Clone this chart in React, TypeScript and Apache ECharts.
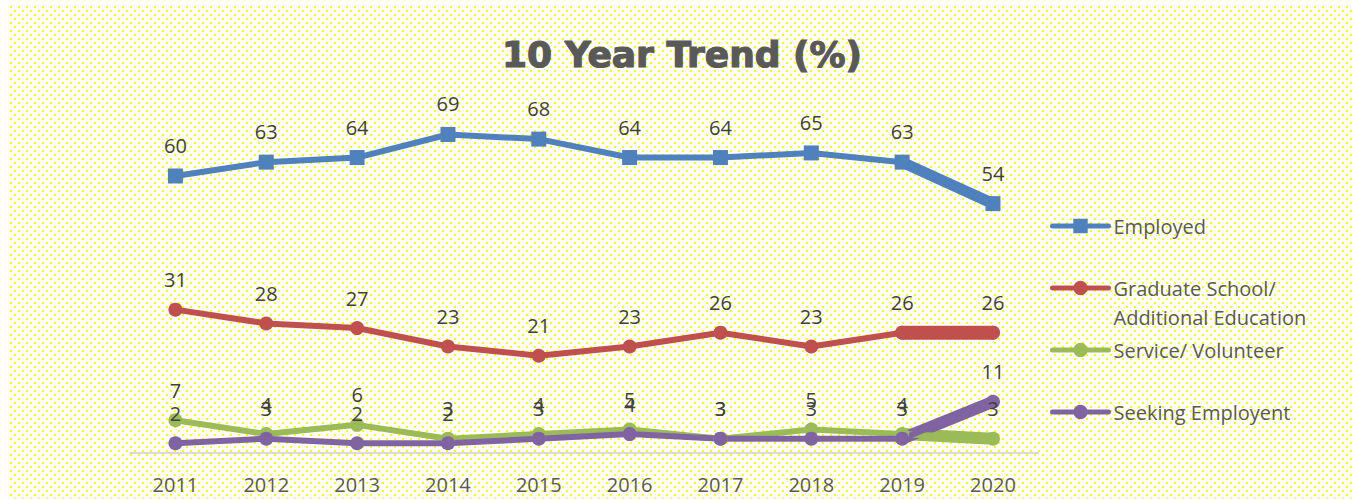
import React, { useEffect, useRef } from "react";
import * as echarts from "echarts";

const years = ["2011", "2012", "2013", "2014", "2015", "2016", "2017", "2018", "2019", "2020"];
const employed = [60, 63, 64, 69, 68, 64, 64, 65, 63, 54];
const gradSchool = [31, 28, 27, 23, 21, 23, 26, 23, 26, 26];
const service = [7, 4, 6, 3, 4, 5, 3, 5, 4, 3];
const seeking = [2, 3, 2, 2, 3, 4, 3, 3, 3, 11];

const seriesNames = [
  "Employed",
  "Graduate School/ Additional Education",
  "Service/ Volunteer",
  "Seeking Employent",
];
const legendTexts = ["Employed", "\nGraduate School/\nAdditional Education", "Service/ Volunteer", "Seeking Employent"];
const colors = ["#4F81BD", "#C0504D", "#9BBB59", "#8064A2"];
const symbols = ["rect", "circle", "circle", "circle"];
const thickWidths = [11, 14, 12, 12];

const FONT = "'Open Sans', sans-serif";

const dot = "conic-gradient(at 2px 2px, rgba(255,255,0,0) 75%, #ffff00 0)";

export default function App() {
  const ref = useRef<HTMLDivElement>(null);

  useEffect(() => {
    if (!ref.current) return;
    const chart = echarts.init(ref.current, undefined, { renderer: "svg" });
    const all = [employed, gradSchool, service, seeking];

    const thickSeries = all.map((vals, i) => ({
      name: seriesNames[i] + " (2019-2020)",
      type: "line",
      data: vals.map((v, j) => (j >= vals.length - 2 ? v : "-")),
      symbol: "none",
      lineStyle: { width: thickWidths[i], color: colors[i], cap: "round" },
      itemStyle: { color: colors[i] },
      silent: true,
      z: 1,
    }));

    const mainSeries = all.map((vals, i) => ({
      name: seriesNames[i],
      type: "line",
      data: vals,
      symbol: symbols[i],
      symbolSize: i === 0 ? 15 : 14,
      lineStyle: { width: 6, color: colors[i], join: "round" },
      itemStyle: { color: colors[i] },
      label: {
        show: true,
        position: "top",
        distance: 13,
        color: "#404040",
        fontSize: 20,
        fontFamily: FONT,
      },
      z: 2,
    }));

    const legendCenters = [226, 288, 350, 412];
    const lineH = 29;
    const legends = seriesNames.map((n, i) => ({
      show: true,
      orient: "vertical",
      left: 1050,
      top: legendCenters[i] - (i === 1 ? 1.5 * lineH : 0.5 * lineH),
      padding: 0,
      itemWidth: 56,
      itemHeight: 18,
      itemGap: 0,
      selectedMode: false,
      data: [n],
      formatter: () => legendTexts[i],
      lineStyle: { width: 5, cap: "round" },
      textStyle: {
        fontSize: 20,
        fontFamily: FONT,
        color: "#595959",
        lineHeight: lineH,
      },
    }));

    chart.setOption({
      animation: false,
      backgroundColor: "transparent",
      title: {
        text: "10 Year Trend (%)",
        left: 502,
        top: 36,
        padding: 0,
        textStyle: {
          fontFamily: "'DejaVu Sans', sans-serif",
          fontWeight: "bold",
          fontSize: 36,
          color: "#595959",
          textBorderColor: "#595959",
          textBorderWidth: 1.2,
        },
      },
      legend: legends,
      grid: { left: 130, right: 314.6, top: 83.8, bottom: 46.5, containLabel: false },
      xAxis: {
        type: "category",
        data: years,
        boundaryGap: true,
        axisLine: { show: true, lineStyle: { color: "#D9D9D9", width: 2 } },
        axisTick: { show: false },
        axisLabel: { color: "#595959", fontSize: 20, fontFamily: FONT, margin: 22 },
      },
      yAxis: {
        type: "value",
        min: 0,
        max: 80,
        show: false,
        splitLine: { show: false },
      },
      series: [...thickSeries, ...mainSeries],
    });
    return () => chart.dispose();
  }, []);

  return (
    <div
      style={{
        position: "absolute",
        left: 0,
        top: 0,
        width: 1353,
        height: 499,
        background: "#ffffff",
        overflow: "hidden",
      }}
    >
      <div
        style={{
          position: "absolute",
          left: 10,
          top: 6,
          right: 0,
          bottom: 0,
          backgroundImage: `${dot}, ${dot}`,
          backgroundPosition: "0px 0px, 4px 4px",
          backgroundRepeat: "repeat, repeat",
          backgroundSize: "8px 8px, 8px 8px",
        }}
      />
      <div ref={ref} style={{ position: "absolute", left: 0, top: 0, width: 1353, height: 499 }} />
    </div>
  );
}
